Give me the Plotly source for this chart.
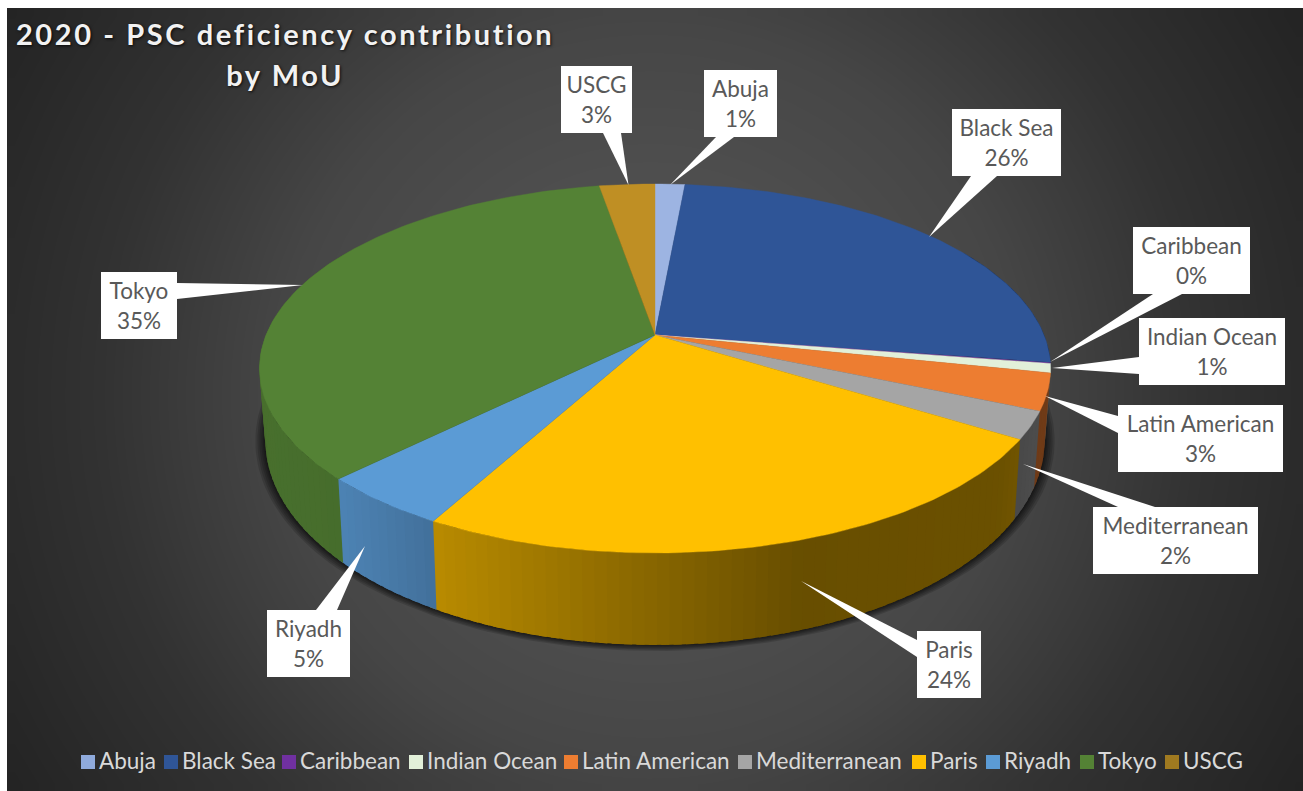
import numpy as np
import plotly.graph_objects as go

# ---- data ----
categories = ["Abuja", "Black Sea", "Caribbean", "Indian Ocean", "Latin American",
              "Mediterranean", "Paris", "Riyadh", "Tokyo", "USCG"]
values = [1.45, 25.9, 0.1, 0.8, 3.2, 2.4, 24.05, 4.6, 34.7, 2.7]
top_colors = ["#9DB4E2", "#2F5597", "#7030A0", "#E2F0D9", "#ED7D31",
              "#A5A5A5", "#FFC000", "#5B9BD5", "#548235", "#BF8F24"]
legend_colors = ["#8FAADC", "#2F5597", "#7030A0", "#E2F0D9", "#ED7D31",
                 "#A5A5A5", "#FFC000", "#5B9BD5", "#548235", "#A07A20"]

# ---- layout helpers ----
W, H = 1303, 791
PANEL = (7, 8, 1303, 791)
CX, CY, A, BT, K = 655, 335, 389.0, 178.4, 0.1816
DROP, A_B, B_B = 68, 0.985 * 389.0, 198.0

# label boxes: x0, y0, x1, y1; pointer base (two points) and tip
callouts = {
    "Abuja": ((704, 70, 777, 137), (716, 137), (734, 137), (670, 185)),
    "Black Sea": ((952, 109, 1061, 176), (971, 176), (997, 176), (929, 237)),
    "Caribbean": ((1133, 227, 1250, 294), (1153, 294), (1182, 294), (1050, 362)),
    "Indian Ocean": ((1139, 318, 1285, 385), (1139, 357), (1139, 374), (1052, 368)),
    "Latin American": ((1118, 405, 1283, 472), (1118, 416), (1118, 433), (1045, 396)),
    "Mediterranean": ((1093, 507, 1258, 574), (1118, 507), (1155, 507), (1023, 464)),
    "Paris": ((917, 631, 981, 698), (917, 640), (917, 657), (801, 581)),
    "Riyadh": ((267, 610, 350, 677), (316, 610), (337, 610), (365, 546)),
    "Tokyo": ((101, 272, 177, 339), (177, 283), (177, 299), (303, 285)),
    "USCG": ((561, 66, 632, 133), (603, 133), (621, 133), (628.5, 185)),
}
legend_left = [81, 164, 282, 409, 564, 738, 912, 986, 1080, 1165]
LABEL_FONT = "Lato"
LABEL_SIZE = 22.5


def top_pt(theta):
    u, v = np.sin(theta), -np.cos(theta)
    d = 1 - K * v
    return CX + A * u / d, CY + BT * v / d


def bottom_pt(theta):
    u, v = np.sin(theta), -np.cos(theta)
    d = 1 - K * v
    return CX + A_B * u / d, CY + DROP + B_B * v / d


def scale_hex(color, f):
    r, g, b = int(color[1:3], 16), int(color[3:5], 16), int(color[5:7], 16)
    return f"rgb({int(r * f)},{int(g * f)},{int(b * f)})"


fig = go.Figure()

# panel background: radial gradient (cell centres inset so the image ends on the panel edge)
NX, NY = 90, 60
dx, dy = (PANEL[2] - PANEL[0]) / NX, (PANEL[3] - PANEL[1]) / NY
gx = PANEL[0] + dx * (np.arange(NX) + 0.5)
gy = PANEL[1] + dy * (np.arange(NY) + 0.5)
XX, YY = np.meshgrid(gx, gy)
dist = np.hypot(XX - 650, YY - 395)
zbg = np.interp(dist, [0, 224, 370, 550, 760], [85, 78, 70, 50, 35])
fig.add_trace(go.Heatmap(x=gx, y=gy, z=zbg, zmin=0, zmax=255, zsmooth="best",
                         colorscale=[[0, "#000000"], [1, "#ffffff"]],
                         showscale=False, hoverinfo="skip"))

# soft shadow under the pie
full = np.radians(np.linspace(0, 360, 241))
for grow in [10, 8, 6, 4, 2.5, 1]:
    x, y = bottom_pt(full)
    x = CX + (x - CX) * (1 + grow / 390)
    y = CY + DROP + (y - CY - DROP) * (1 + grow / 400)
    fig.add_trace(go.Scatter(x=x, y=y, mode="lines", fill="toself",
                             fillcolor="rgba(0,0,0,0.15)", line=dict(width=0),
                             hoverinfo="skip", showlegend=False))

# slice angles from the values (clockwise from 12 o'clock)
vals = np.array(values, dtype=float)
edges = np.concatenate([[0], np.cumsum(vals) / vals.sum() * 2 * np.pi])

# side wall, shaded from left to right; each piece overlaps the next to hide seams
SHADE_X = [260, 345, 440, 620, 800, 1000, 1050]
SHADE_F = [0.86, 0.84, 0.72, 0.56, 0.41, 0.42, 0.48]
OVERLAP = np.radians(1.0)
for i, col in enumerate(top_colors):
    a0, a1 = max(edges[i], np.radians(60)), min(edges[i + 1], np.radians(300))
    if a1 <= a0:
        continue
    n = max(1, int(np.degrees(a1 - a0) / 1.5))
    steps = np.linspace(a0, a1, n + 1)
    for s0, s1 in zip(steps[:-1], steps[1:]):
        arc = np.array([s0, (s0 + s1) / 2, s1 + OVERLAP])
        xt, yt = top_pt(arc)
        xb, yb = bottom_pt(arc[::-1])
        xc = top_pt(np.array([(s0 + s1) / 2]))[0][0]
        c = scale_hex(col, np.interp(xc, SHADE_X, SHADE_F))
        fig.add_trace(go.Scatter(x=np.concatenate([xt, xb]), y=np.concatenate([yt, yb]),
                                 mode="lines", fill="toself", fillcolor=c,
                                 line=dict(width=0),
                                 hoverinfo="skip", showlegend=False))

# top face
for i, col in enumerate(top_colors):
    n = max(2, int(np.degrees(edges[i + 1] - edges[i])))
    arc = np.linspace(edges[i], edges[i + 1], n + 1)
    xt, yt = top_pt(arc)
    fig.add_trace(go.Scatter(x=np.concatenate([[CX], xt, [CX]]),
                             y=np.concatenate([[CY], yt, [CY]]),
                             mode="lines", fill="toself", fillcolor=col,
                             line=dict(color=col, width=0.4),
                             name=categories[i], text=categories[i],
                             hoverinfo="text", showlegend=False))

# callouts
for name in categories:
    (x0, y0, x1, y1), b0, b1, tip = callouts[name]
    fig.add_trace(go.Scatter(x=[b0[0], tip[0], b1[0], b0[0]], y=[b0[1], tip[1], b1[1], b0[1]],
                             mode="lines", fill="toself", fillcolor="#ffffff", line=dict(width=0),
                             hoverinfo="skip", showlegend=False))
    fig.add_trace(go.Scatter(x=[x0, x1, x1, x0, x0], y=[y0, y0, y1, y1, y0],
                             mode="lines", fill="toself", fillcolor="#ffffff", line=dict(width=0),
                             hoverinfo="skip", showlegend=False))

pct = np.rint(vals / vals.sum() * 100).astype(int)
tx, ty, tt = [], [], []
for name, p in zip(categories, pct):
    (x0, y0, x1, y1) = callouts[name][0]
    xm, ym = (x0 + x1) / 2, (y0 + y1) / 2
    tx += [xm, xm]
    ty += [ym - 12.5, ym + 17.5]
    tt += [name, f"{p}%"]
fig.add_trace(go.Scatter(x=tx, y=ty, text=tt, mode="text", textposition="middle center",
                         textfont=dict(family=LABEL_FONT, size=LABEL_SIZE, color="#595959"),
                         hoverinfo="skip", showlegend=False))

# legend row
fig.add_trace(go.Scatter(x=[v + 7 for v in legend_left], y=[762] * len(categories), mode="markers",
                         marker=dict(symbol="square", size=14, color=legend_colors, line=dict(width=0)),
                         hoverinfo="skip", showlegend=False))
fig.add_trace(go.Scatter(x=[v + 18 for v in legend_left], y=[763] * len(categories), mode="text",
                         text=categories, textposition="middle right",
                         textfont=dict(family=LABEL_FONT, size=LABEL_SIZE, color="#D9D9D9"),
                         hoverinfo="skip", showlegend=False))

title_font = dict(family="Lato", size=29, color="#F2F2F2", weight=700,
                  shadow="1px 1px 3px rgba(0,0,0,0.8)")
for text, ty_ in [("2020 - PSC deficiency contribution", 33), ("by MoU", 74)]:
    fig.add_annotation(x=284.5, y=ty_, xref="x", yref="y", text=text, showarrow=False,
                       xanchor="center", yanchor="middle", font=title_font)

fig.update_xaxes(range=[0, W], visible=False, fixedrange=True)
fig.update_yaxes(range=[H, 0], visible=False, fixedrange=True)
fig.update_layout(width=W, height=H, margin=dict(l=0, r=0, t=0, b=0),
                  paper_bgcolor="#ffffff", plot_bgcolor="#ffffff", showlegend=False)
fig.write_html("out.html", config=dict(displayModeBar=False),
               post_script="document.body.style.margin='0';"
                           "document.querySelectorAll('.annotation-text').forEach(function(t){"
                           "t.style.letterSpacing='2.6px';});")
